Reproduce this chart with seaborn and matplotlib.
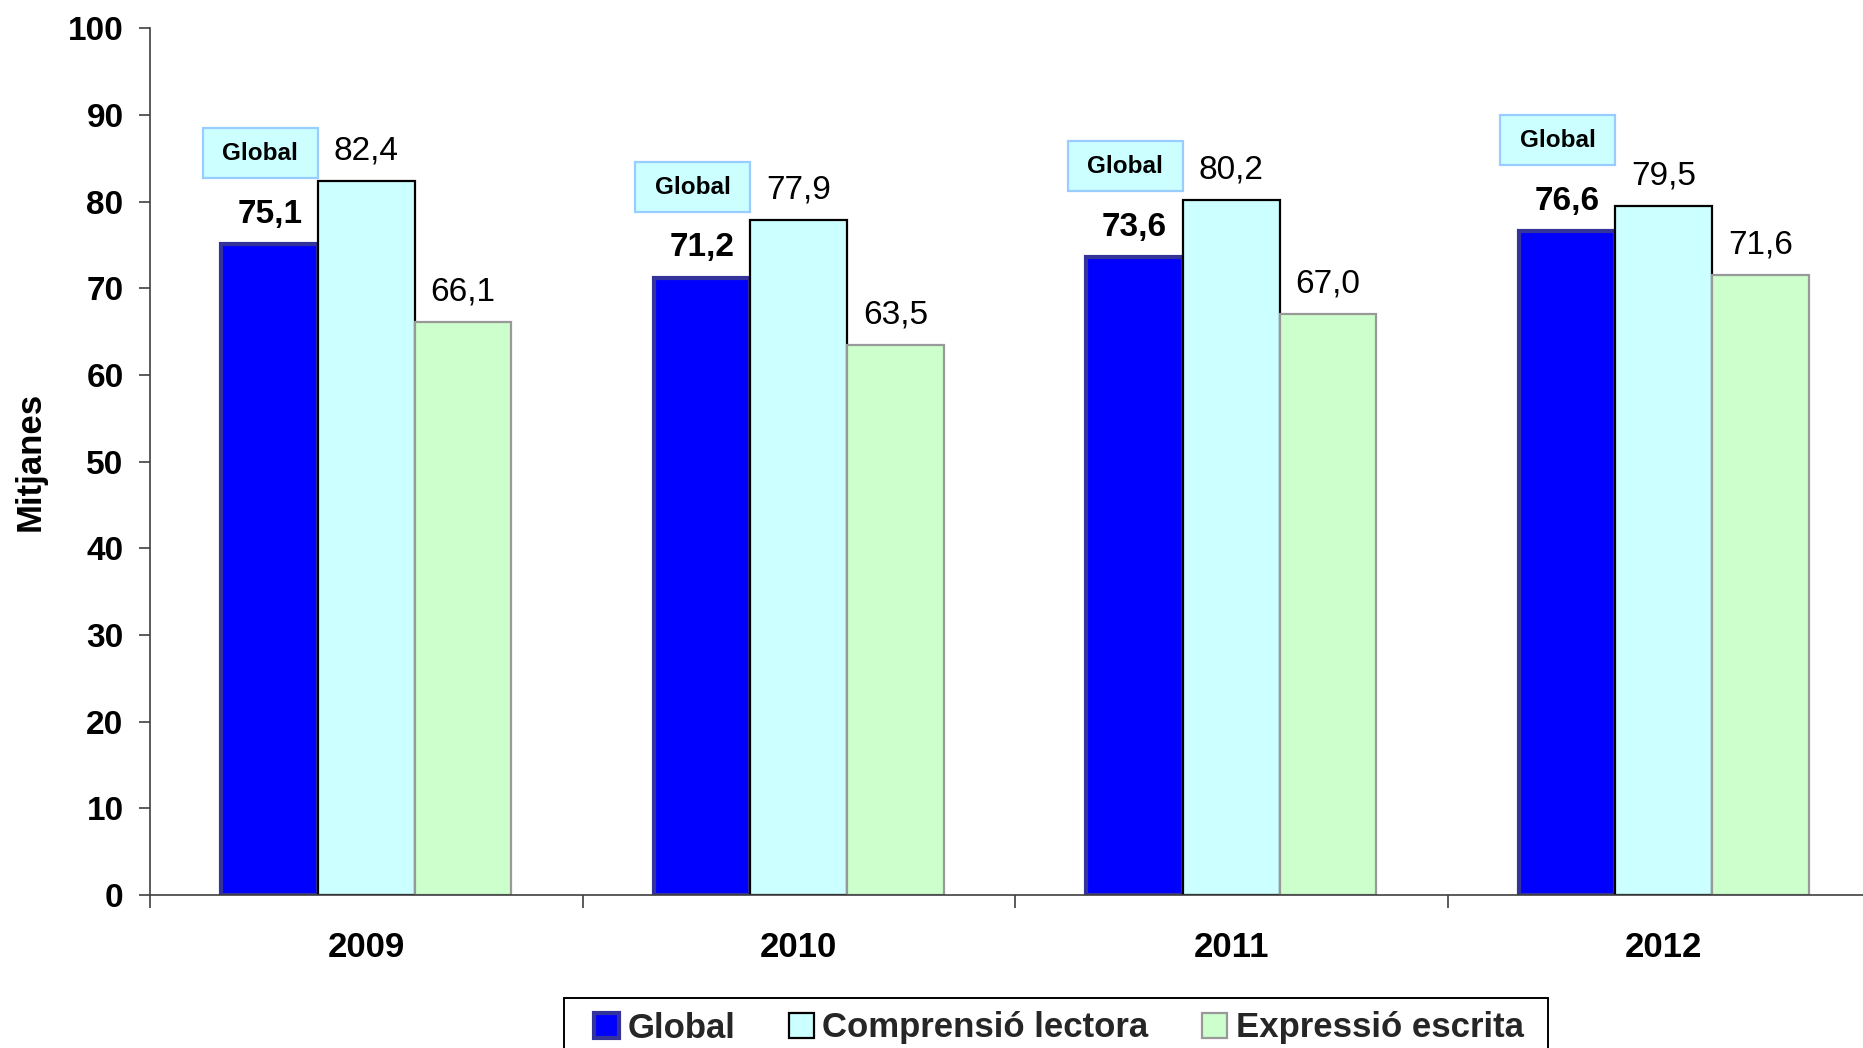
import pandas as pd
import matplotlib.pyplot as plt
import seaborn as sns
from matplotlib.patches import Patch, Rectangle

years = ['2009', '2010', '2011', '2012']
series = ['Global', 'Comprensió lectora', 'Expressió escrita']
global_vals = [75.1, 71.2, 73.6, 76.6]
comprensio_vals = [82.4, 77.9, 80.2, 79.5]
expressio_vals = [66.1, 63.5, 67.0, 71.6]

colors = ['#0000ff', '#ccffff', '#ccffcc']
edge_colors = ['#333399', '#000000', '#999999']
edge_widths = [3.0, 1.6, 1.6]

df = pd.DataFrame({
    'any': years * 3,
    'serie': [s for s in series for _ in years],
    'valor': global_vals + comprensio_vals + expressio_vals,
})

sns.set_theme(style='white')
plt.rcParams['font.family'] = ['Liberation Sans', 'DejaVu Sans']

W, H = 1863, 1048
fig = plt.figure(figsize=(W / 100, H / 100), dpi=100)
ax = fig.add_axes([150 / W, 1 - 895 / H, 1730 / W, 866.5 / H])
ax.patch.set_alpha(0)

sns.barplot(data=df, x='any', y='valor', hue='serie', order=years,
            hue_order=series, palette=colors, saturation=1, width=0.67,
            ax=ax, legend=False)

vals_by_series = [global_vals, comprensio_vals, expressio_vals]
for i, cont in enumerate(ax.containers):
    for bar in cont:
        bar.set_edgecolor(edge_colors[i])
        bar.set_linewidth(edge_widths[i])
    labels = [f'{v:.1f}'.replace('.', ',') for v in vals_by_series[i]]
    ax.bar_label(cont, labels=labels, padding=10.5, fontsize=24,
                 fontweight='bold' if i == 0 else 'normal', color='black')

# "Global" tags above the blue bars
for bar in ax.containers[0]:
    cx = bar.get_x() + bar.get_width() / 2 - 0.022
    cy = bar.get_height() + 10.5
    bw, bh = 0.266, 5.77
    ax.add_patch(Rectangle((cx - bw / 2, cy - bh / 2), bw, bh,
                           facecolor='#ccffff', edgecolor='#99ccff',
                           linewidth=1.6, clip_on=False, zorder=3))
    ax.text(cx, cy, 'Global', ha='center', va='center', fontsize=17.5,
            fontweight='bold', color='black', zorder=4)

ax.set_ylim(0, 100)
ax.set_xlim(-0.5, 3.5)
ax.set_yticks(range(0, 101, 10))
ax.set_xticks([-0.5, 0.5, 1.5, 2.5, 3.5], minor=True)
ax.set_xlabel('')
ax.set_ylabel('Mitjanes', fontsize=25, fontweight='bold', color='black')
ax.yaxis.set_label_coords(-0.0595, 0.5)

for lab in ax.get_yticklabels() + ax.get_xticklabels():
    lab.set_fontweight('bold')
ax.tick_params(axis='y', left=True, length=8, width=1.2, pad=11,
               labelsize=24, color='#404040', labelcolor='black')
ax.tick_params(axis='x', which='major', bottom=True, length=0, pad=26,
               labelsize=25, labelcolor='black')
ax.tick_params(axis='x', which='minor', bottom=True, length=9.5, width=1.2,
               color='#404040')

sns.despine(ax=ax, top=True, right=True)
for side in ['left', 'bottom']:
    ax.spines[side].set_color('#404040')
    ax.spines[side].set_linewidth(1.2)

# legend with its own square frame, cut off by the bottom edge
fig.patches.append(Rectangle((564 / W, 1 - 1070 / H), 984 / W, 72 / H,
                             transform=fig.transFigure, facecolor='white',
                             edgecolor='black', linewidth=1.4))
handles = [Patch(facecolor=c, edgecolor=e, linewidth=lw)
           for c, e, lw in zip(colors, edge_colors, edge_widths)]
fig.legend(handles, series, loc='center left',
           bbox_to_anchor=(594 / W, 1 - 1028 / H), ncol=3, frameon=False,
           borderpad=0, borderaxespad=0, handlelength=0.72, handleheight=0.75,
           handletextpad=0.24, columnspacing=1.55,
           prop={'size': 25, 'weight': 'bold'})

fig.savefig('out.png', dpi=100)
